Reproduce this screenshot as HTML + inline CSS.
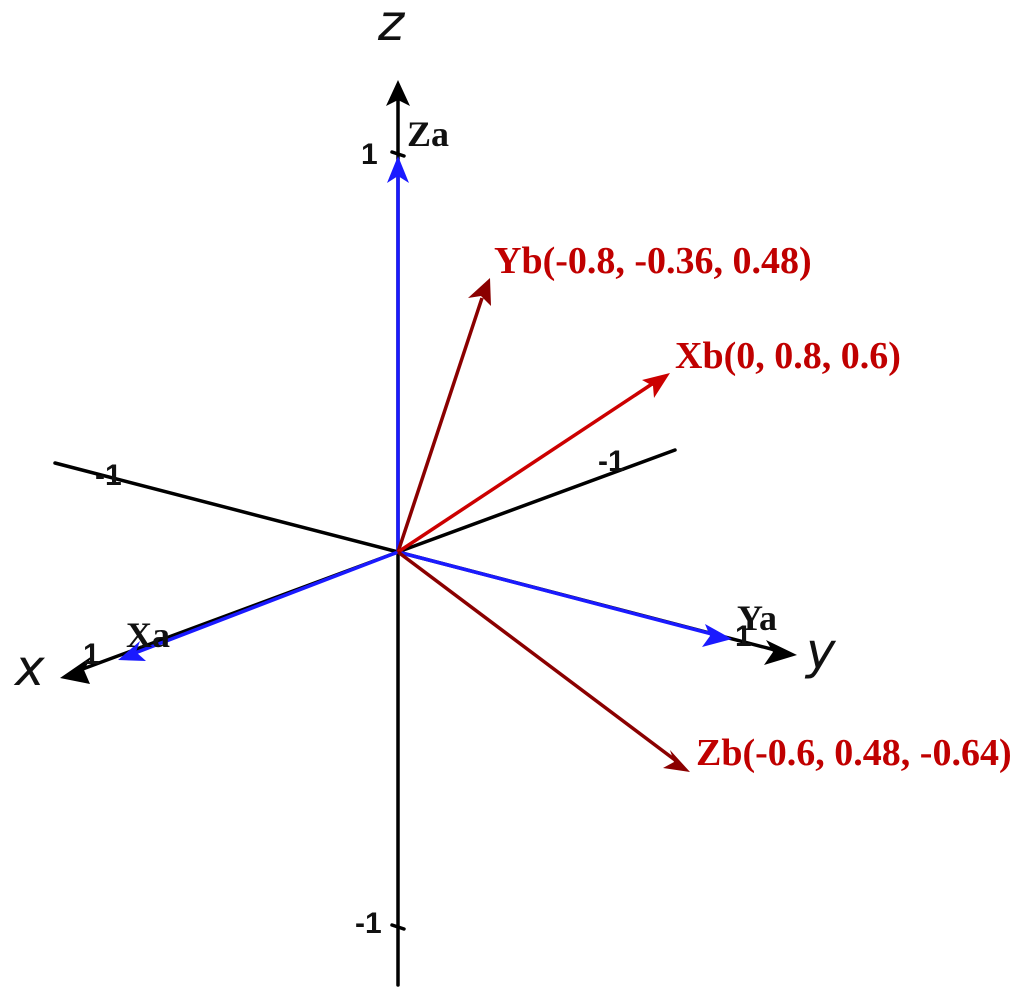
<!DOCTYPE html>
<html><head><meta charset="utf-8"><style>html,body{margin:0;padding:0;background:#fff;width:1025px;height:1008px;overflow:hidden}</style></head>
<body>
<svg width="1025" height="1008" viewBox="0 0 1025 1008" xmlns="http://www.w3.org/2000/svg">
<g stroke="#000" stroke-width="3.5" fill="none" stroke-linecap="round">
<line x1="398" y1="985" x2="398" y2="100"/>
<line x1="55" y1="463" x2="398" y2="552"/>
<line x1="675" y1="450" x2="398" y2="552"/>
<line x1="398" y1="552" x2="80" y2="670"/>
<line x1="398" y1="552" x2="775" y2="650"/>
<line x1="392" y1="152" x2="404" y2="156"/>
<line x1="392" y1="925" x2="404" y2="929"/>
</g>
<polygon points="398,80 386,106 398,100 410,106" fill="#000"/>
<polygon points="60,678 92,656 84,670 90,684" fill="#000"/>
<polygon points="797,655 766,640 773,652 764,665" fill="#000"/>
<g stroke="#1a1aff" stroke-width="3.5" fill="none">
<line x1="398" y1="552" x2="398" y2="175"/>
<line x1="398" y1="552" x2="135" y2="653"/>
<line x1="398" y1="552" x2="712" y2="634"/>
</g>
<polygon points="398,156 387,183 398,176 409,183" fill="#1a1aff"/>
<polygon points="118,660 140,641 136,652 146,661" fill="#1a1aff"/>
<polygon points="732,639 705,624 710,636 702,647" fill="#1a1aff"/>
<g stroke-width="3.5" fill="none">
<line x1="398" y1="552" x2="482" y2="298" stroke="#8b0000"/>
<line x1="398" y1="552" x2="652" y2="384" stroke="#cc0000"/>
<line x1="398" y1="552" x2="675" y2="760" stroke="#8b0000"/>
</g>
<polygon points="490,278 468,298 481,296 491,306" fill="#8b0000"/>
<polygon points="670,373 642,380 653,386 654,398" fill="#cc0000"/>
<polygon points="690,772 670,750 674,762 663,768" fill="#8b0000"/>
<g font-family="Liberation Serif, serif" font-weight="bold" font-size="38" fill="#c00000">
<text x="494" y="273">Yb(-0.8, -0.36, 0.48)</text>
<text x="675" y="368">Xb(0, 0.8, 0.6)</text>
<text x="696" y="765">Zb(-0.6, 0.48, -0.64)</text>
</g>
<g font-family="Liberation Serif, serif" font-weight="bold" font-size="36" fill="#111">
<text x="407" y="146">Za</text>
<text x="126" y="647">Xa</text>
<text x="737" y="630">Ya</text>
</g>
<g font-family="Liberation Sans, sans-serif" font-weight="bold" font-size="30" fill="#111">
<text x="361" y="164">1</text>
<text x="83" y="664">1</text>
<text x="95" y="485">-1</text>
<text x="598" y="471">-1</text>
<text x="355" y="933">-1</text>
<text x="735" y="646">1</text>
</g>
<g font-family="DejaVu Sans, sans-serif" font-style="italic" font-size="50" fill="#111">
<text x="378" y="40">z</text>
<text x="15" y="685">x</text>
<text x="806" y="668">y</text>
</g>
</svg>
</body></html>
